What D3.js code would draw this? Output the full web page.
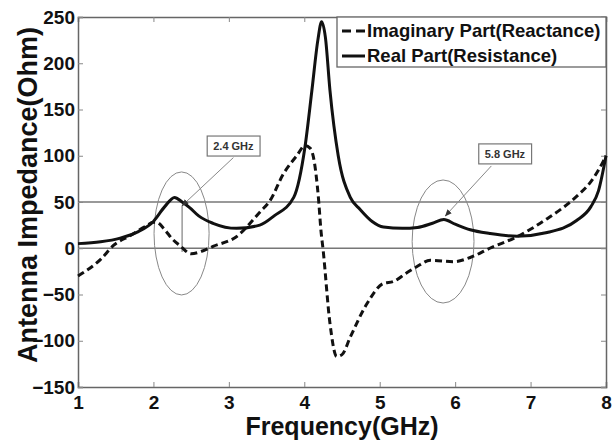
<!DOCTYPE html>
<html>
<head>
<meta charset="utf-8">
<style>
  body { margin: 0; background: #fff; }
  svg text { font-family: "Liberation Sans", Arial, sans-serif; font-weight: bold; }
</style>
</head>
<body>
<svg width="614" height="440"></svg>
<script src="https://d3js.org/d3.v7.min.js"></script>
<script>
// values
const realFreq = [1.0, 1.3, 1.56, 1.8, 2.0, 2.15, 2.28, 2.38, 2.48, 2.6, 2.79, 3.1, 3.41, 3.6, 3.86, 4.01, 4.1, 4.18, 4.23, 4.28, 4.34, 4.45, 4.61, 4.74, 4.9, 5.05, 5.3, 5.5, 5.7, 5.85, 6.0, 6.2, 6.46, 6.82, 7.22, 7.61, 7.8, 7.9, 8.0];
const realVal  = [5, 7, 11, 18, 29, 45, 55, 50, 44, 35, 27, 21.5, 25, 35, 55, 110, 170, 225, 245, 228, 171, 100, 55, 42, 29, 23, 21.5, 22.5, 27, 31, 26, 20, 16, 13, 17, 30, 45, 62, 100];

const imagFreq = [1.0, 1.3, 1.47, 1.7, 1.9, 2.0, 2.04, 2.15, 2.25, 2.35, 2.5, 2.65, 2.79, 3.1, 3.41, 3.55, 3.72, 3.9, 4.01, 4.08, 4.12, 4.19, 4.22, 4.25, 4.34, 4.43, 4.5, 4.61, 4.83, 5.05, 5.18, 5.35, 5.49, 5.67, 5.98, 6.2, 6.46, 6.82, 7.22, 7.61, 7.8, 7.97, 8.0];
const imagVal  = [-30, -12, 3, 14, 24, 28, 28, 20, 10, 3, -6, -3, 2, 12.5, 39, 52, 80, 100, 111, 108, 99, 52, 20, -2, -81, -117, -115, -96, -60, -38, -36, -27, -20, -13, -14.5, -10, 0, 12.5, 32, 56, 72, 95, 100];

const xTicks = [1, 2, 3, 4, 5, 6, 7, 8];
const yTicks = [-150, -100, -50, 0, 50, 100, 150, 200, 250];
const refLines = [0, 50];
const seriesNames = ["Imaginary Part(Reactance)", "Real Part(Resistance)"];

// annotations, in data units
const marks = [
  { label: "2.4 GHz", cf: 2.373, cv: 16, rf: 0.365, rv: 66.5, boxF: 3.06, boxV: 110.5, fromF: 3.06, fromV: 98, toF: 2.38, toV: 46, stemV: -4 },
  { label: "5.8 GHz", cf: 5.84, cv: 7.3, rf: 0.41, rv: 66.5, boxF: 6.66, boxV: 102, fromF: 6.48, fromV: 89, toF: 5.87, toV: 35, stemV: null }
];

const svg = d3.select("svg");
const m = { left: 78, right: 606, top: 17, bottom: 387 };

const x = d3.scaleLinear().domain([1, 8]).range([m.left, m.right]);
const y = d3.scaleLinear().domain([-150, 250]).range([m.bottom, m.top]);

svg.append("defs").append("marker")
  .attr("id", "arr").attr("viewBox", "0 0 10 10").attr("refX", 9).attr("refY", 5)
  .attr("markerWidth", 7).attr("markerHeight", 7).attr("orient", "auto")
  .append("path").attr("d", "M0,1 L10,5 L0,9 z").attr("fill", "#333");

// reference lines
svg.selectAll(".ref").data(refLines).enter().append("line")
  .attr("x1", m.left).attr("x2", m.right)
  .attr("y1", d => y(d)).attr("y2", d => y(d))
  .attr("stroke", "#777").attr("stroke-width", 1.3);

// axes, ticks inward on all four sides
const tk = 5;
svg.append("g").attr("transform", `translate(0,${m.bottom})`)
  .call(d3.axisBottom(x).tickValues(xTicks).tickSize(-tk).tickPadding(9).tickFormat(d3.format("d")))
  .call(g => g.selectAll("text").attr("font-size", 19).attr("fill", "#111"));
svg.append("g").attr("transform", `translate(0,${m.top})`)
  .call(d3.axisTop(x).tickValues(xTicks).tickSize(-tk).tickFormat(""));
svg.append("g").attr("transform", `translate(${m.left},0)`)
  .call(d3.axisLeft(y).tickValues(yTicks).tickSize(-tk).tickPadding(3).tickFormat(d3.format("d")))
  .call(g => g.selectAll("text").attr("font-size", 19).attr("fill", "#111"));
svg.append("g").attr("transform", `translate(${m.right},0)`)
  .call(d3.axisRight(y).tickValues(yTicks).tickSize(-tk).tickFormat(""));
svg.selectAll(".domain").attr("stroke", "#666").attr("stroke-width", 1.5);
svg.selectAll(".tick line").attr("stroke", "#888");

// ellipses and pointers
marks.forEach(a => {
  svg.append("ellipse")
    .attr("cx", x(a.cf)).attr("cy", y(a.cv))
    .attr("rx", x(a.cf + a.rf) - x(a.cf)).attr("ry", y(a.cv - a.rv) - y(a.cv))
    .attr("fill", "none").attr("stroke", "#888").attr("stroke-width", 1);
  if (a.stemV !== null) {
    svg.append("line")
      .attr("x1", x(a.toF)).attr("x2", x(a.toF))
      .attr("y1", y(a.toV)).attr("y2", y(a.stemV))
      .attr("stroke", "#666").attr("stroke-width", 1);
  }
});

const line = d3.line().curve(d3.curveMonotoneX).x(d => x(d[0])).y(d => y(d[1]));
svg.append("path").datum(d3.zip(imagFreq, imagVal))
  .attr("d", line).attr("fill", "none").attr("stroke", "#111")
  .attr("stroke-width", 3).attr("stroke-dasharray", "7,4");
svg.append("path").datum(d3.zip(realFreq, realVal))
  .attr("d", line).attr("fill", "none").attr("stroke", "#111").attr("stroke-width", 3);

marks.forEach(a => {
  svg.append("line")
    .attr("x1", x(a.fromF)).attr("y1", y(a.fromV))
    .attr("x2", x(a.toF)).attr("y2", y(a.toV))
    .attr("stroke", "#888").attr("stroke-width", 1)
    .attr("marker-end", "url(#arr)");
  const t = svg.append("text")
    .attr("x", x(a.boxF)).attr("y", y(a.boxV) + 4)
    .attr("text-anchor", "middle").attr("font-size", 11).attr("fill", "#333")
    .text(a.label);
  const bb = t.node().getBBox();
  svg.insert("rect", () => t.node())
    .attr("x", bb.x - 6).attr("y", bb.y - 4)
    .attr("width", bb.width + 12).attr("height", bb.height + 8)
    .attr("fill", "#fff").attr("stroke", "#777").attr("stroke-width", 1.2);
});

// legend
const lg = svg.append("g");
lg.append("rect").attr("x", 337).attr("y", m.top).attr("width", m.right - 337).attr("height", 50)
  .attr("fill", "#fff").attr("stroke", "#666").attr("stroke-width", 1.3);
const li = lg.selectAll(".li").data(seriesNames).enter().append("g")
  .attr("transform", (d, i) => `translate(340,${31 + i * 25})`);
li.append("line").attr("x1", 2).attr("x2", 25).attr("y1", 0).attr("y2", 0)
  .attr("stroke", "#111").attr("stroke-width", 3)
  .attr("stroke-dasharray", (d, i) => i === 0 ? "9,5" : null);
li.append("text").attr("x", 27).attr("y", 6).attr("font-size", 18.5).attr("fill", "#111").text(d => d);

// axis titles
svg.append("text").attr("x", (m.left + m.right) / 2).attr("y", 435)
  .attr("text-anchor", "middle").attr("font-size", 25).attr("fill", "#111").text("Frequency(GHz)");
svg.append("text").attr("transform", "translate(37,195) rotate(-90)")
  .attr("text-anchor", "middle").attr("font-size", 27).attr("fill", "#111").text("Antenna Impedance(Ohm)");
</script>
</body>
</html>
